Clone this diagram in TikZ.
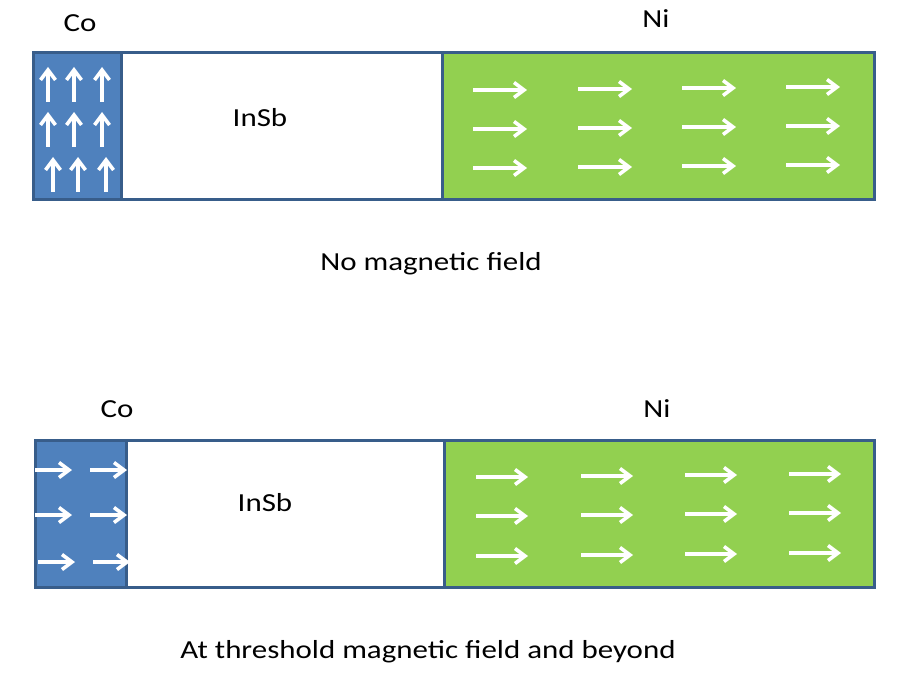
\documentclass[tikz,border=0pt]{standalone}
\usepackage{fontspec}
\setmainfont{Carlito}[FakeStretch=1.19]
\usetikzlibrary{arrows.meta, positioning}

\definecolor{coblue}{HTML}{4F81BD}
\definecolor{edgeblue}{HTML}{385D8A}
\definecolor{nigreen}{HTML}{92D050}

\begin{document}
\begin{tikzpicture}[x=1pt, y=-1pt,
    layer/.style={draw=edgeblue, line width=3pt, inner sep=0pt, outer sep=0pt},
    cobox/.style={layer, fill=coblue},
    insbbox/.style={layer, fill=white},
    nibox/.style={layer, fill=nigreen},
    lbl/.style={anchor=base, font=\fontsize{26}{31}\selectfont},
    spin/.style={white, line width=3.6pt, -{Straight Barb[length=10pt, width=15pt]}}]
    \useasboundingbox (0,0) rectangle (900,690);

    % No field
    \node[cobox, anchor=north west, minimum width=88pt, minimum height=146pt] (co1) at (33,53) {};
    \node[insbbox, minimum width=321pt, minimum height=146pt, right=0pt of co1] (insb1) {};
    \node[nibox, minimum width=432pt, minimum height=146pt, right=0pt of insb1] (ni1) {};

    \node[lbl] (colbl1) at (80,32) {Co};
    \node[lbl] (nilbl1) at (656,28) {Ni};
    \node[lbl] (insblbl1) at (260,127) {InSb};
    \node[lbl] (cap1) at (431,270) {No magnetic field};

    % Co moments up
    \foreach \x/\y in {48/67, 74/67, 102/67, 48/112, 74/112, 102/112, 53/157, 78/157, 106/157}
        \draw[spin] (\x,\y+35) -- (\x,\y);
    % Ni moments along the wire
    \foreach \c/\x in {0/473, 1/578, 2/682, 3/786}
        \foreach \y in {90, 129, 168}
            \draw[spin] (\x,\y-\c) -- (\x+54,\y-\c);

    % Threshold field
    \node[cobox, anchor=north west, minimum width=91pt, minimum height=147pt] (co2) at (35,440) {};
    \node[insbbox, minimum width=318pt, minimum height=147pt, right=0pt of co2] (insb2) {};
    \node[nibox, minimum width=430pt, minimum height=147pt, right=0pt of insb2] (ni2) {};

    \node[lbl] (colbl2) at (117,417) {Co};
    \node[lbl] (nilbl2) at (657,417) {Ni};
    \node[lbl] (insblbl2) at (265,511) {InSb};
    \node[lbl] (cap2) at (428,658) {At threshold magnetic field and beyond};

    % Co moments rotated
    \foreach \x/\y in {35/470, 90/470, 35/515, 90/515, 38/562, 93/562}
        \draw[spin] (\x,\y) -- (\x+37,\y);
    \foreach \c/\x in {0/476, 1/581, 2/685, 3/789}
        \foreach \y in {477, 516, 556}
            \draw[spin] (\x,\y-\c) -- (\x+52,\y-\c);
\end{tikzpicture}
\end{document}
